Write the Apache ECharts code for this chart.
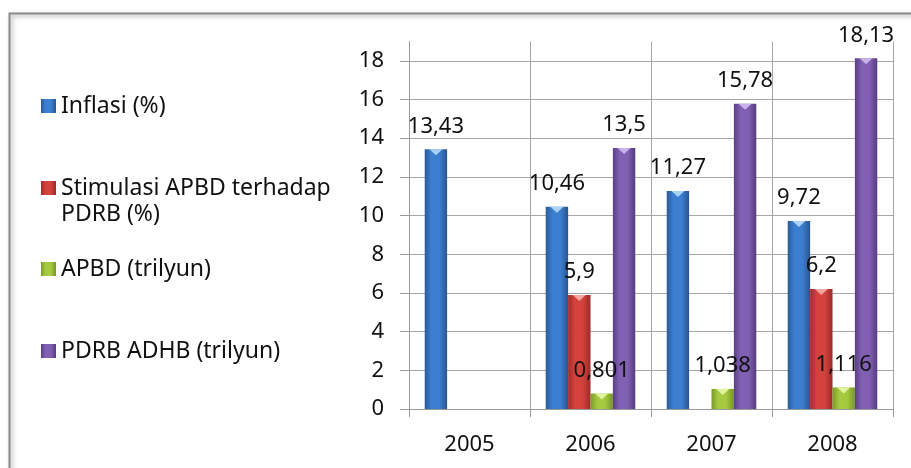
<!DOCTYPE html>
<html>
<head>
<meta charset="utf-8">
<script src="https://cdn.jsdelivr.net/npm/echarts@6/dist/echarts.min.js"></script>
<style>
  html, body { margin: 0; padding: 0; background: #fff; }
  #chart { width: 911px; height: 468px; }
</style>
</head>
<body>
<div id="chart"></div>
<script>
const categories = ['2005', '2006', '2007', '2008'];
const seriesNames = ['Inflasi (%)', 'Stimulasi APBD terhadap PDRB (%)', 'APBD (trilyun)', 'PDRB ADHB (trilyun)'];
const inflasi = [13.43, 10.46, 11.27, 9.72];
const stimulasi = [null, 5.9, null, 6.2];
const apbd = [null, 0.801, 1.038, 1.116];
const pdrb = [null, 13.5, 15.78, 18.13];
const yMin = 0, yMax = 19, yStep = 2;

const FONT = 'Noto Sans';
const palettes = [
  { edge: '#2a5a98', mid: '#3c7fd0', dark: '#2a5590', cap: '#a9d2f7' },
  { edge: '#9e2c2a', mid: '#d4423d', dark: '#9a2a28', cap: '#f5a5a2' },
  { edge: '#7a9a2a', mid: '#a5ca40', dark: '#76962a', cap: '#e2f3a0' },
  { edge: '#5a3f86', mid: '#8160b3', dark: '#573c80', cap: '#c9b2ec' }
];
function grad(p) {
  return new echarts.graphic.LinearGradient(0, 0, 1, 0, [
    { offset: 0, color: p.edge },
    { offset: 0.3, color: p.mid },
    { offset: 0.65, color: p.mid },
    { offset: 1, color: p.dark }
  ]);
}
const dataSets = [inflasi, stimulasi, apbd, pdrb];

const barSeries = dataSets.map((d, i) => ({
  name: seriesNames[i],
  type: 'bar',
  data: d,
  barGap: '0%',
  barCategoryGap: '26%',
  itemStyle: { color: grad(palettes[i]) },
  label: {
    show: true,
    position: 'top',
    distance: 12,
    fontFamily: FONT,
    fontSize: 22,
    color: '#111',
    formatter: p => String(p.value).replace('.', ',')
  },
  z: 2
}));
const capSeries = dataSets.map((d, i) => ({
  name: seriesNames[i],
  type: 'pictorialBar',
  data: d,
  barGap: '0%',
  barCategoryGap: '26%',
  symbol: 'path://M0,0 L10,0 L5,6 Z',
  symbolSize: [13, 6],
  symbolPosition: 'end',
  symbolOffset: [0, 0],
  itemStyle: { color: palettes[i].cap },
  silent: true,
  z: 3
}));

const legendTops = [93, 149, 256, 338];
const legends = seriesNames.map((n, i) => ({
  data: [n],
  orient: 'vertical',
  left: 41,
  top: legendTops[i],
  padding: 0,
  itemWidth: 15,
  itemHeight: 14,
  icon: 'rect',
  formatter: i === 1 ? () => ' \nStimulasi APBD terhadap\nPDRB (%)' : undefined,
  textStyle: {
    fontFamily: FONT,
    fontSize: 23,
    color: '#111',
    lineHeight: 26
  }
}));

const chart = echarts.init(document.getElementById('chart'));
chart.setOption({
  backgroundColor: '#fff',
  animation: false,
  graphic: [{
    type: 'rect',
    left: 7, top: 11,
    shape: { width: 960, height: 520 },
    style: {
      fill: 'none', stroke: '#8a8a8a', lineWidth: 2,
      shadowBlur: 4, shadowColor: 'rgba(0,0,0,0.35)', shadowOffsetX: 2, shadowOffsetY: 2
    },
    z: -10,
    silent: true
  }],
  legend: legends,
  grid: { left: 409, right: 18, top: 41.5, bottom: 59, containLabel: false },
  xAxis: {
    type: 'category',
    data: categories,
    axisLine: { show: true, lineStyle: { color: '#9a9a9a', width: 1 } },
    axisTick: { show: true, length: 8, interval: 0, lineStyle: { color: '#9a9a9a' } },
    splitLine: { show: true, interval: 0, lineStyle: { color: '#a6a6a6', width: 1 } },
    axisLabel: { fontFamily: FONT, fontSize: 22, color: '#111', margin: 25 }
  },
  yAxis: {
    type: 'value',
    min: yMin, max: yMax, interval: yStep,
    axisLine: { show: true, lineStyle: { color: '#9a9a9a', width: 1 } },
    axisTick: { show: true, length: 9, lineStyle: { color: '#9a9a9a' } },
    splitLine: { show: true, showMaxLine: false, lineStyle: { color: '#a6a6a6', width: 1 } },
    axisLabel: { fontFamily: FONT, fontSize: 22, color: '#111', margin: 25, showMaxLabel: false }
  },
  series: barSeries.concat(capSeries)
});
</script>
</body>
</html>
